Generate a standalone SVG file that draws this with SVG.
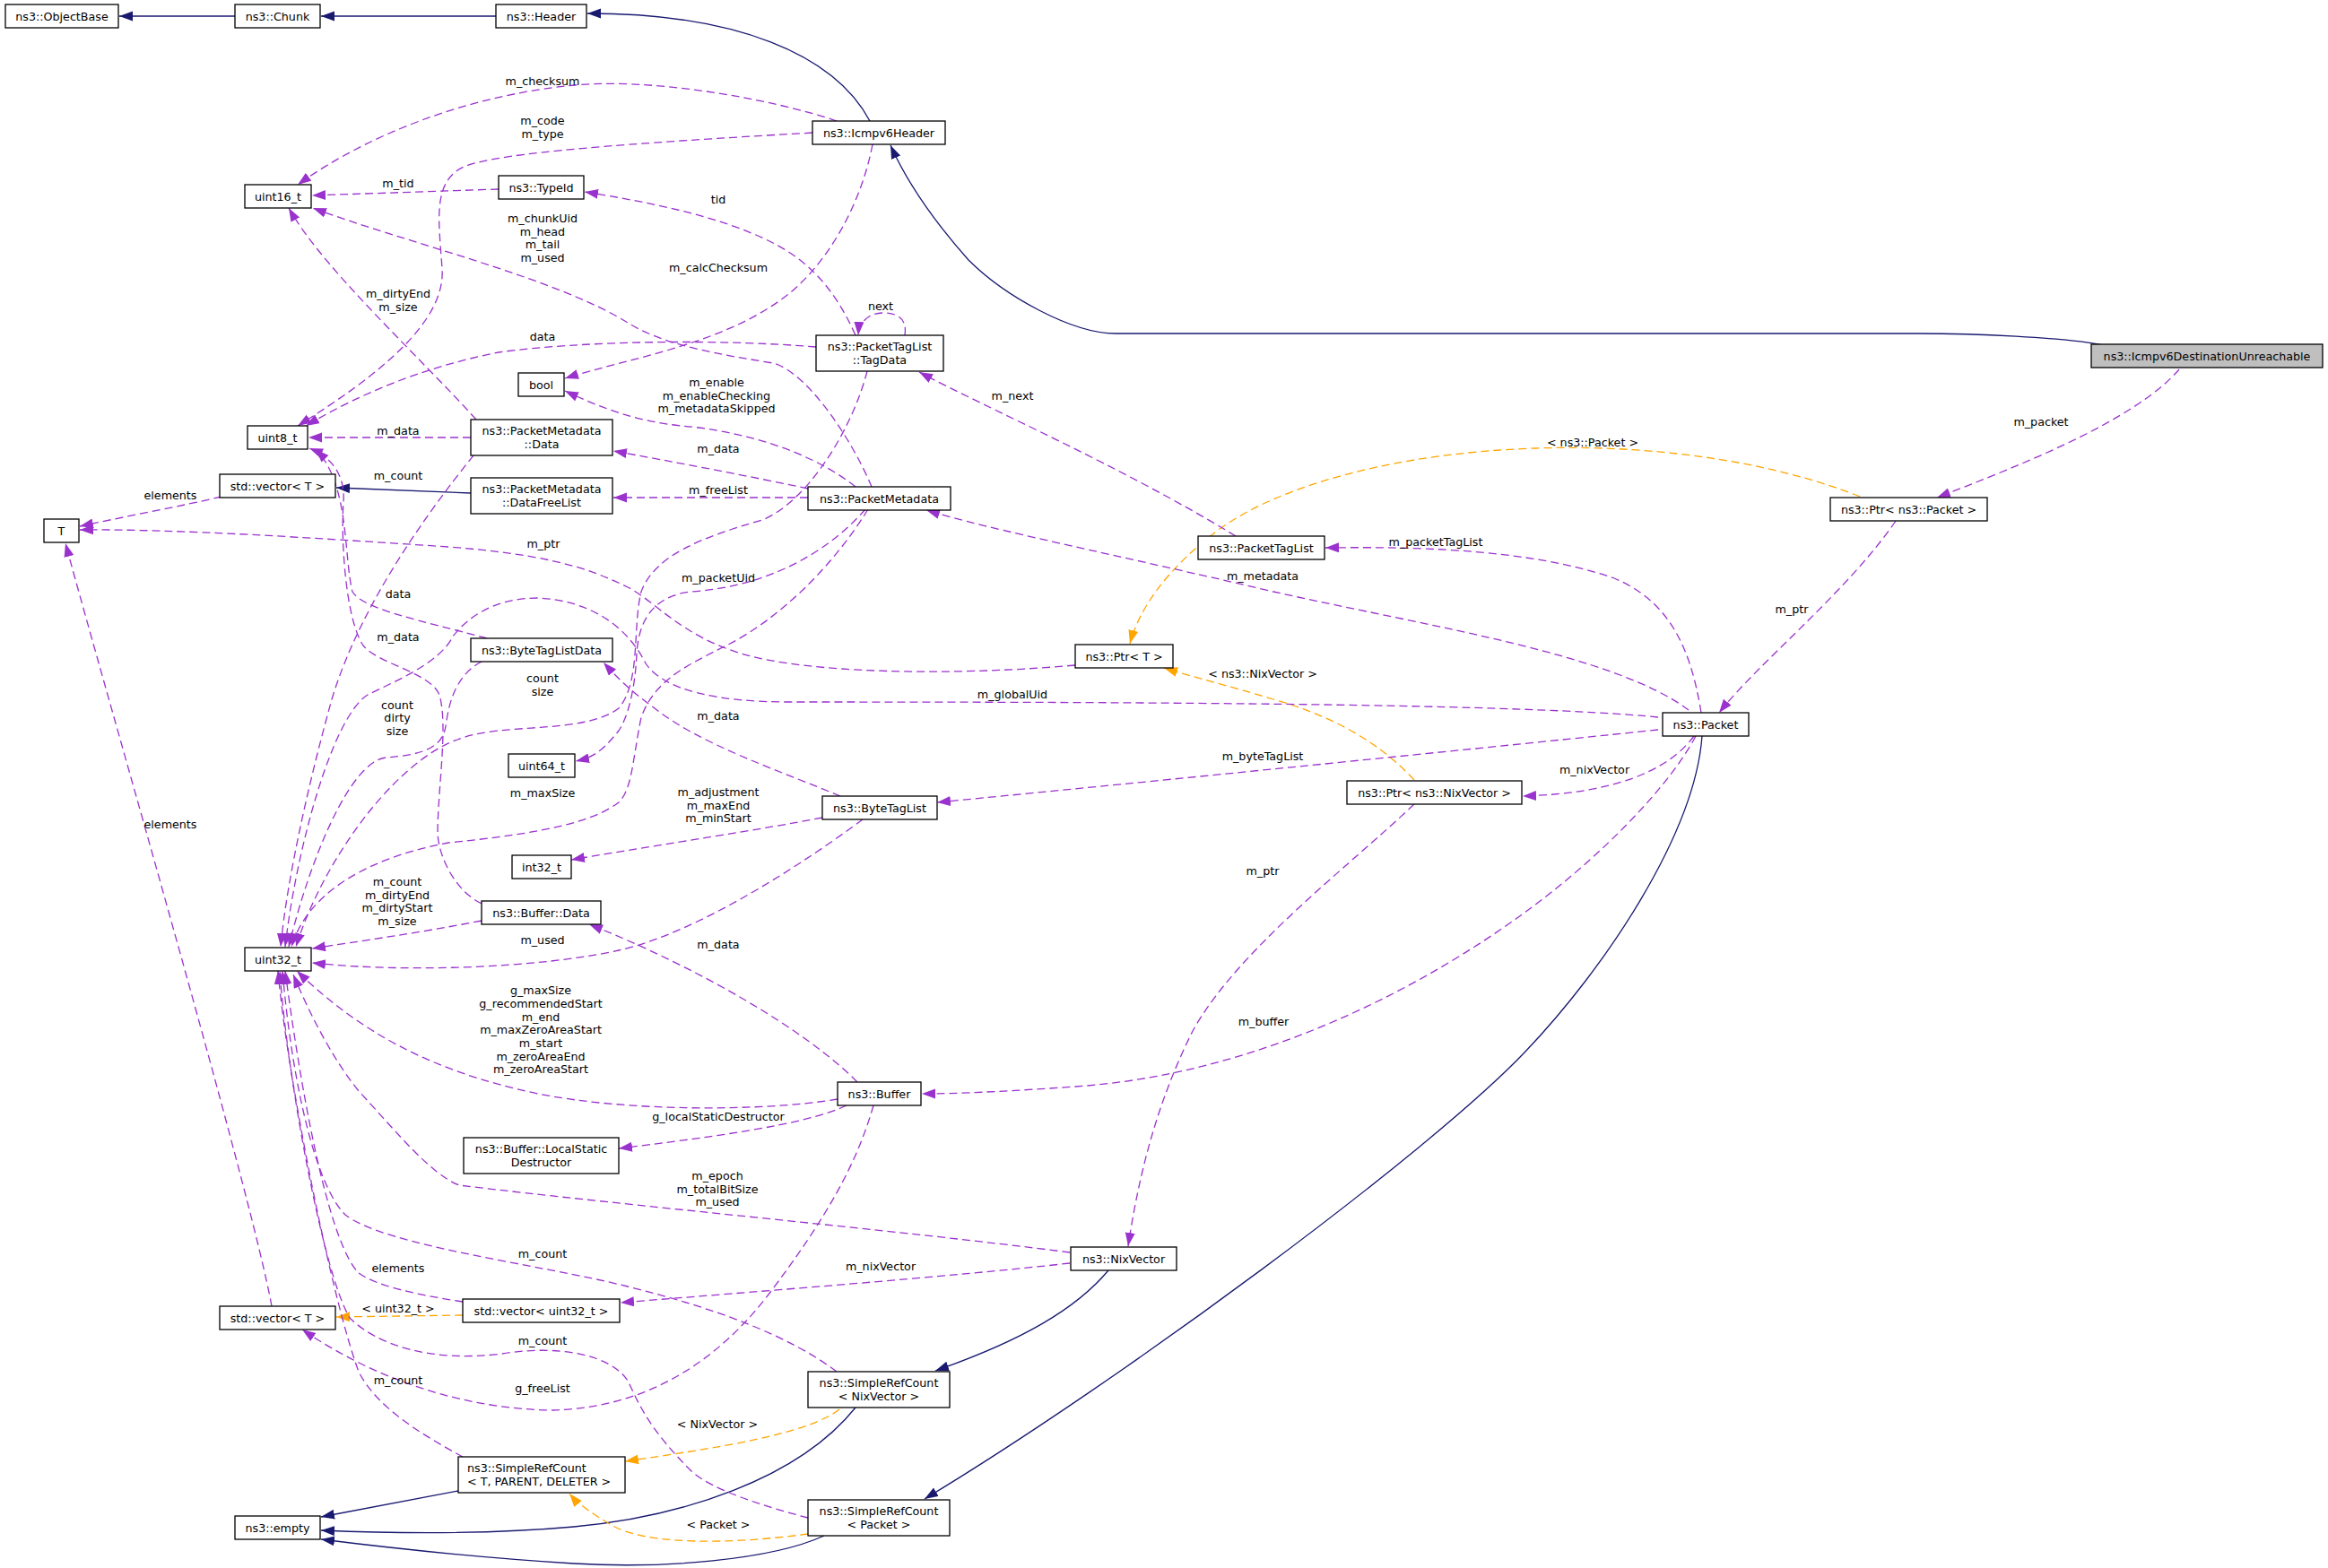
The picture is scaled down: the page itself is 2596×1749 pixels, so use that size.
<svg xmlns="http://www.w3.org/2000/svg" width="2596" height="1749" viewBox="0 0 2596 1749">
<style>
  text { font-family: "DejaVu Sans", "Liberation Sans", sans-serif; font-size: 12.7px; fill: #000; }
  .nt { text-anchor: middle; }
  .lb { text-anchor: middle; }
  .box { fill: #fff; stroke: #000; stroke-width: 1.3; }
  .root { fill: #bfbfbf; stroke: #000; stroke-width: 1.3; }
  .inh { fill: none; stroke: #191970; stroke-width: 1.3; marker-end: url(#an); }
  .use { fill: none; stroke: #9a32cd; stroke-width: 1.3; stroke-dasharray: 9,5; marker-end: url(#ap); }
  .tpl { fill: none; stroke: #ffa500; stroke-width: 1.3; stroke-dasharray: 9,5; marker-end: url(#ao); }
</style>
<defs>
  <marker id="an" markerUnits="userSpaceOnUse" markerWidth="16" markerHeight="12" refX="15" refY="5.5" orient="auto"><path d="M0,0 L15,5.5 L0,11 z" fill="#191970"/></marker>
  <marker id="ap" markerUnits="userSpaceOnUse" markerWidth="16" markerHeight="12" refX="15" refY="5.5" orient="auto"><path d="M0,0 L15,5.5 L0,11 z" fill="#9a32cd"/></marker>
  <marker id="ao" markerUnits="userSpaceOnUse" markerWidth="16" markerHeight="12" refX="15" refY="5.5" orient="auto"><path d="M0,0 L15,5.5 L0,11 z" fill="#ffa500"/></marker>
</defs>
<rect x="0" y="0" width="2596" height="1749" fill="#fff"/>
<g id="connectors">
  <path class="inh" d="M262,18 L133,18"/>
  <path class="inh" d="M553,18 L358,18"/>
  <path class="inh" d="M970,135 C930,60 820,15 655,15"/>
  <path class="inh" d="M2345,385 C2300,376 2200,372 2140,372 L1244,372 C1195,372 1120,330 1080,290 C1040,245 1010,200 993,162"/>
  <path class="inh" d="M1898,821 C1890,930 1790,1080 1700,1174 C1592,1287 1250,1540 1031,1672"/>
  <path class="inh" d="M1236,1417 C1200,1460 1140,1495 1043,1529"/>
  <path class="inh" d="M511,1663 L358,1692"/>
  <path class="inh" d="M954,1570 C890,1650 760,1692 640,1703 C540,1712 430,1710 358,1707"/>
  <path class="inh" d="M919,1713 C860,1740 740,1750 640,1744 C540,1738 430,1726 358,1717"/>
  <path class="inh" d="M525,550 L375,544"/>

  <path class="tpl" d="M2074,554 C1990,520 1860,495 1712,500 C1560,505 1430,540 1360,590 C1300,635 1270,680 1260,718"/>
  <path class="tpl" d="M1577,870 C1540,830 1490,800 1420,780 C1370,765 1330,755 1298,745"/>
  <path class="tpl" d="M516,1467 L375,1469"/>
  <path class="tpl" d="M936,1572 C900,1600 800,1615 697,1630"/>
  <path class="tpl" d="M901,1711 C820,1722 720,1725 680,1700 C660,1688 645,1678 635,1666"/>

  <path class="use" d="M2430,412 C2380,470 2250,520 2160,555"/>
  <path class="use" d="M2114,581 C2060,660 1960,740 1917,795"/>
  <path class="use" d="M1897,795 C1885,720 1860,670 1800,645 C1700,610 1560,610 1478,611"/>
  <path class="use" d="M1883,792 C1800,730 1600,700 1420,660 C1250,620 1100,590 1033,569"/>
  <path class="use" d="M1849,814 C1600,840 1200,880 1045,895"/>
  <path class="use" d="M1889,821 C1860,860 1800,885 1698,888"/>
  <path class="use" d="M1891,821 C1860,880 1780,960 1700,1018 C1560,1120 1380,1200 1199,1212 C1130,1217 1070,1220 1028,1220"/>
  <path class="use" d="M1849,800 C1700,785 1300,783 880,783 C800,783 740,770 720,740 C700,700 660,670 600,667 C550,667 520,690 505,710 C490,740 440,760 410,775 C370,800 330,950 318,1056"/>
  <path class="use" d="M1199,742 C1050,755 900,750 830,730 C760,710 730,670 700,655 C650,630 600,618 500,610 C350,600 200,590 89,591"/>
  <path class="use" d="M1577,897 C1500,970 1380,1060 1330,1150 C1290,1230 1270,1310 1258,1390"/>
  <path class="use" d="M1193,1409 C1050,1425 850,1440 692,1453"/>
  <path class="use" d="M1193,1397 C1000,1372 700,1345 512,1322 C480,1310 440,1260 400,1217 C370,1180 345,1130 327,1087"/>
  <path class="use" d="M1378,598 C1250,520 1100,455 1025,415"/>
  <path class="use" d="M965,568 C920,620 850,655 770,660 C730,665 712,690 710,730 C708,770 700,800 690,815 C670,840 660,845 642,849"/>
  <path class="use" d="M968,568 C930,630 870,690 810,720 C760,745 730,760 715,800 C705,850 705,880 690,895 C660,918 600,930 500,940 C420,955 345,990 325,1056"/>
  <path class="use" d="M901,545 C830,530 750,515 684,503"/>
  <path class="use" d="M901,555 L684,555"/>
  <path class="use" d="M954,543 C900,500 820,480 760,475 C710,470 670,455 630,436"/>
  <path class="use" d="M972,543 C950,490 900,415 862,405 C800,395 740,385 700,360 C620,310 450,270 349,232"/>
  <path class="use" d="M973,161 C960,230 920,300 870,335 C800,385 700,400 630,422"/>
  <path class="use" d="M933,135 C860,110 720,85 631,96 C520,108 410,150 332,206"/>
  <path class="use" d="M906,148 C700,160 560,170 520,185 C480,200 490,250 493,300 C497,360 420,420 332,475"/>
  <path class="use" d="M556,211 L348,218"/>
  <path class="use" d="M954,374 C930,320 900,290 860,270 C800,240 720,225 652,214"/>
  <path class="use" d="M1009,374 C1012,355 1000,349 985,349 C970,349 958,358 957,374"/>
  <path class="use" d="M910,387 C800,378 650,380 556,393 C470,410 400,440 341,475"/>
  <path class="use" d="M531,468 C470,400 360,300 322,232"/>
  <path class="use" d="M525,488 L344,488"/>
  <path class="use" d="M528,508 C470,580 400,680 370,780 C345,870 320,980 313,1056"/>
  <path class="use" d="M967,414 C950,480 900,560 850,580 C780,600 730,620 715,660 C705,700 715,760 690,790 C650,820 560,805 510,825 C440,850 360,960 330,1056"/>
  <path class="use" d="M543,712 C470,692 405,680 393,660 C383,620 390,540 352,501"/>
  <path class="use" d="M537,738 C505,755 500,790 497,810 C493,835 470,842 430,845 C390,850 345,960 322,1056"/>
  <path class="use" d="M537,1008 C510,995 490,960 488,930 C488,880 500,810 490,775 C480,750 420,740 405,720 C385,690 380,600 383,560 C385,530 370,510 345,500"/>
  <path class="use" d="M937,888 C870,860 780,830 730,790 C705,772 690,758 673,739"/>
  <path class="use" d="M917,912 C850,925 750,940 637,959"/>
  <path class="use" d="M962,914 C900,960 780,1040 690,1060 C600,1080 450,1085 348,1074"/>
  <path class="use" d="M537,1027 C470,1040 400,1050 348,1058"/>
  <path class="use" d="M956,1207 C900,1150 780,1080 657,1031"/>
  <path class="use" d="M934,1226 C850,1240 700,1240 600,1220 C480,1195 400,1150 331,1083"/>
  <path class="use" d="M944,1233 C900,1255 780,1270 690,1281"/>
  <path class="use" d="M974,1233 C955,1300 920,1360 860,1440 C800,1520 720,1570 617,1573 C520,1572 420,1540 337,1483"/>
  <path class="use" d="M516,1452 C470,1445 420,1435 400,1420 C370,1390 340,1250 318,1083"/>
  <path class="use" d="M933,1530 C880,1490 800,1460 700,1435 C600,1410 430,1390 385,1355 C350,1320 325,1200 315,1083"/>
  <path class="use" d="M901,1693 C850,1680 790,1660 770,1640 C720,1590 710,1560 700,1540 C680,1510 620,1500 560,1510 C480,1520 420,1500 390,1470 C360,1420 320,1200 312,1083"/>
  <path class="use" d="M516,1625 C470,1600 420,1570 400,1530 C370,1450 320,1200 310,1083"/>
  <path class="use" d="M303,1457 C280,1330 120,780 73,606"/>
  <path class="use" d="M247,554 C200,565 130,578 89,587"/>

  <g id="edge-labels">
    <text class="lb" x="605" y="94.5">m_checksum</text>
    <text class="lb" x="605" y="139">m_code</text>
    <text class="lb" x="605" y="153.5">m_type</text>
    <text class="lb" x="444" y="209">m_tid</text>
    <text class="lb" x="801" y="227">tid</text>
    <text class="lb" x="605" y="248">m_chunkUid</text>
    <text class="lb" x="605" y="263">m_head</text>
    <text class="lb" x="605" y="277">m_tail</text>
    <text class="lb" x="605" y="292">m_used</text>
    <text class="lb" x="801" y="303">m_calcChecksum</text>
    <text class="lb" x="444" y="332">m_dirtyEnd</text>
    <text class="lb" x="444" y="347">m_size</text>
    <text class="lb" x="982" y="346">next</text>
    <text class="lb" x="605" y="380">data</text>
    <text class="lb" x="799" y="431">m_enable</text>
    <text class="lb" x="799" y="445.5">m_enableChecking</text>
    <text class="lb" x="799" y="460">m_metadataSkipped</text>
    <text class="lb" x="1129" y="445.5">m_next</text>
    <text class="lb" x="2276" y="475">m_packet</text>
    <text class="lb" x="1776" y="497.5">&lt; ns3::Packet &gt;</text>
    <text class="lb" x="444" y="484.5">m_data</text>
    <text class="lb" x="801" y="504.5">m_data</text>
    <text class="lb" x="444" y="535">m_count</text>
    <text class="lb" x="801" y="551">m_freeList</text>
    <text class="lb" x="190" y="556.5">elements</text>
    <text class="lb" x="606" y="611">m_ptr</text>
    <text class="lb" x="1601" y="609">m_packetTagList</text>
    <text class="lb" x="1408" y="647">m_metadata</text>
    <text class="lb" x="801" y="649">m_packetUid</text>
    <text class="lb" x="444" y="667">data</text>
    <text class="lb" x="1998" y="684">m_ptr</text>
    <text class="lb" x="444" y="715">m_data</text>
    <text class="lb" x="1408" y="756">&lt; ns3::NixVector &gt;</text>
    <text class="lb" x="605" y="761">count</text>
    <text class="lb" x="605" y="775.5">size</text>
    <text class="lb" x="443" y="791">count</text>
    <text class="lb" x="443" y="805">dirty</text>
    <text class="lb" x="443" y="820">size</text>
    <text class="lb" x="1129" y="779">m_globalUid</text>
    <text class="lb" x="801" y="803">m_data</text>
    <text class="lb" x="1408" y="848">m_byteTagList</text>
    <text class="lb" x="1778" y="863">m_nixVector</text>
    <text class="lb" x="605" y="889">m_maxSize</text>
    <text class="lb" x="801" y="888">m_adjustment</text>
    <text class="lb" x="801" y="903">m_maxEnd</text>
    <text class="lb" x="801" y="917">m_minStart</text>
    <text class="lb" x="190" y="923.5">elements</text>
    <text class="lb" x="1408" y="975.5">m_ptr</text>
    <text class="lb" x="443" y="988">m_count</text>
    <text class="lb" x="443" y="1003">m_dirtyEnd</text>
    <text class="lb" x="443" y="1017">m_dirtyStart</text>
    <text class="lb" x="443" y="1032">m_size</text>
    <text class="lb" x="605" y="1053">m_used</text>
    <text class="lb" x="801" y="1058">m_data</text>
    <text class="lb" x="603" y="1109">g_maxSize</text>
    <text class="lb" x="603" y="1124">g_recommendedStart</text>
    <text class="lb" x="603" y="1138.5">m_end</text>
    <text class="lb" x="603" y="1153">m_maxZeroAreaStart</text>
    <text class="lb" x="603" y="1168">m_start</text>
    <text class="lb" x="603" y="1183">m_zeroAreaEnd</text>
    <text class="lb" x="603" y="1197">m_zeroAreaStart</text>
    <text class="lb" x="1409" y="1144">m_buffer</text>
    <text class="lb" x="801" y="1249.5">g_localStaticDestructor</text>
    <text class="lb" x="800" y="1316">m_epoch</text>
    <text class="lb" x="800" y="1331">m_totalBitSize</text>
    <text class="lb" x="800" y="1345">m_used</text>
    <text class="lb" x="605" y="1403">m_count</text>
    <text class="lb" x="444" y="1419">elements</text>
    <text class="lb" x="982" y="1417">m_nixVector</text>
    <text class="lb" x="444" y="1463.5">&lt; uint32_t &gt;</text>
    <text class="lb" x="605" y="1500">m_count</text>
    <text class="lb" x="444" y="1543.5">m_count</text>
    <text class="lb" x="605" y="1553">g_freeList</text>
    <text class="lb" x="800" y="1593">&lt; NixVector &gt;</text>
    <text class="lb" x="801" y="1705">&lt; Packet &gt;</text>
  </g>
</g>

<g id="node-objectbase"><rect class="box" x="6" y="5" width="126" height="26"/><text class="nt" x="69" y="22.5">ns3::ObjectBase</text></g>
<g id="node-chunk"><rect class="box" x="262" y="5" width="95" height="26"/><text class="nt" x="309.5" y="22.5">ns3::Chunk</text></g>
<g id="node-header"><rect class="box" x="553" y="5" width="101" height="26"/><text class="nt" x="603.5" y="22.5">ns3::Header</text></g>
<g id="node-icmpv6header"><rect class="box" x="906" y="135" width="148" height="26"/><text class="nt" x="980" y="152.5">ns3::Icmpv6Header</text></g>
<g id="node-icmpv6destinationunreachable"><rect class="root" x="2332" y="384" width="258" height="26"/><text class="nt" x="2461" y="401.5">ns3::Icmpv6DestinationUnreachable</text></g>
<g id="node-uint16"><rect class="box" x="273" y="206" width="74" height="26"/><text class="nt" x="310" y="223.5">uint16_t</text></g>
<g id="node-typeid"><rect class="box" x="556" y="196" width="95" height="26"/><text class="nt" x="603.5" y="213.5">ns3::TypeId</text></g>
<g id="node-tagdata"><rect class="box" x="910" y="374" width="142" height="40"/><text class="nt" x="981" y="391">ns3::PacketTagList</text><text class="nt" x="981" y="405.5">::TagData</text></g>
<g id="node-bool"><rect class="box" x="578" y="416" width="51" height="26"/><text class="nt" x="603.5" y="433.5">bool</text></g>
<g id="node-uint8"><rect class="box" x="276" y="475" width="67" height="26"/><text class="nt" x="309.5" y="492.5">uint8_t</text></g>
<g id="node-pmdata"><rect class="box" x="525" y="468" width="158" height="40"/><text class="nt" x="604" y="485">ns3::PacketMetadata</text><text class="nt" x="604" y="499.5">::Data</text></g>
<g id="node-vector-t-1"><rect class="box" x="245" y="529" width="129" height="26"/><text class="nt" x="309.5" y="546.5">std::vector&lt; T &gt;</text></g>
<g id="node-datafreelist"><rect class="box" x="525" y="533" width="158" height="40"/><text class="nt" x="604" y="550">ns3::PacketMetadata</text><text class="nt" x="604" y="564.5">::DataFreeList</text></g>
<g id="node-packetmetadata"><rect class="box" x="901" y="543" width="159" height="26"/><text class="nt" x="980.5" y="560.5">ns3::PacketMetadata</text></g>
<g id="node-t"><rect class="box" x="49" y="579" width="39" height="26"/><text class="nt" x="68.5" y="596.5">T</text></g>
<g id="node-packettaglist"><rect class="box" x="1336" y="598" width="141" height="26"/><text class="nt" x="1406.5" y="615.5">ns3::PacketTagList</text></g>
<g id="node-ptr-packet"><rect class="box" x="2041" y="555" width="175" height="26"/><text class="nt" x="2128.5" y="572.5">ns3::Ptr&lt; ns3::Packet &gt;</text></g>
<g id="node-bytetaglistdata"><rect class="box" x="525" y="712" width="158" height="26"/><text class="nt" x="604" y="729.5">ns3::ByteTagListData</text></g>
<g id="node-ptr-t"><rect class="box" x="1199" y="719" width="109" height="26"/><text class="nt" x="1253.5" y="736.5">ns3::Ptr&lt; T &gt;</text></g>
<g id="node-packet"><rect class="box" x="1854" y="795" width="96" height="26"/><text class="nt" x="1902" y="812.5">ns3::Packet</text></g>
<g id="node-uint64"><rect class="box" x="567" y="841" width="74" height="26"/><text class="nt" x="604" y="858.5">uint64_t</text></g>
<g id="node-bytetaglist"><rect class="box" x="917" y="888" width="128" height="26"/><text class="nt" x="981" y="905.5">ns3::ByteTagList</text></g>
<g id="node-ptr-nixvector"><rect class="box" x="1502" y="871" width="195" height="26"/><text class="nt" x="1599.5" y="888.5">ns3::Ptr&lt; ns3::NixVector &gt;</text></g>
<g id="node-int32"><rect class="box" x="571" y="954" width="66" height="26"/><text class="nt" x="604" y="971.5">int32_t</text></g>
<g id="node-buffer-data"><rect class="box" x="537" y="1005" width="133" height="26"/><text class="nt" x="603.5" y="1022.5">ns3::Buffer::Data</text></g>
<g id="node-uint32"><rect class="box" x="273" y="1057" width="74" height="26"/><text class="nt" x="310" y="1074.5">uint32_t</text></g>
<g id="node-buffer"><rect class="box" x="934" y="1207" width="93" height="26"/><text class="nt" x="980.5" y="1224.5">ns3::Buffer</text></g>
<g id="node-localstaticdestructor"><rect class="box" x="517" y="1269" width="173" height="40"/><text class="nt" x="603.5" y="1286">ns3::Buffer::LocalStatic</text><text class="nt" x="603.5" y="1300.5">Destructor</text></g>
<g id="node-nixvector"><rect class="box" x="1194" y="1391" width="118" height="26"/><text class="nt" x="1253" y="1408.5">ns3::NixVector</text></g>
<g id="node-vector-uint32"><rect class="box" x="516" y="1449" width="175" height="26"/><text class="nt" x="603.5" y="1466.5">std::vector&lt; uint32_t &gt;</text></g>
<g id="node-vector-t-2"><rect class="box" x="245" y="1457" width="129" height="26"/><text class="nt" x="309.5" y="1474.5">std::vector&lt; T &gt;</text></g>
<g id="node-simplerefcount-nixvector"><rect class="box" x="901" y="1530" width="158" height="40"/><text class="nt" x="980" y="1547">ns3::SimpleRefCount</text><text class="nt" x="980" y="1561.5">&lt; NixVector &gt;</text></g>
<g id="node-simplerefcount-t"><rect class="box" x="511" y="1625" width="186" height="40"/><text x="521" y="1642">ns3::SimpleRefCount</text><text x="521" y="1656.5">&lt; T, PARENT, DELETER &gt;</text></g>
<g id="node-empty"><rect class="box" x="262" y="1691" width="95" height="26"/><text class="nt" x="309.5" y="1708.5">ns3::empty</text></g>
<g id="node-simplerefcount-packet"><rect class="box" x="901" y="1673" width="158" height="40"/><text class="nt" x="980" y="1690">ns3::SimpleRefCount</text><text class="nt" x="980" y="1704.5">&lt; Packet &gt;</text></g>
</svg>
